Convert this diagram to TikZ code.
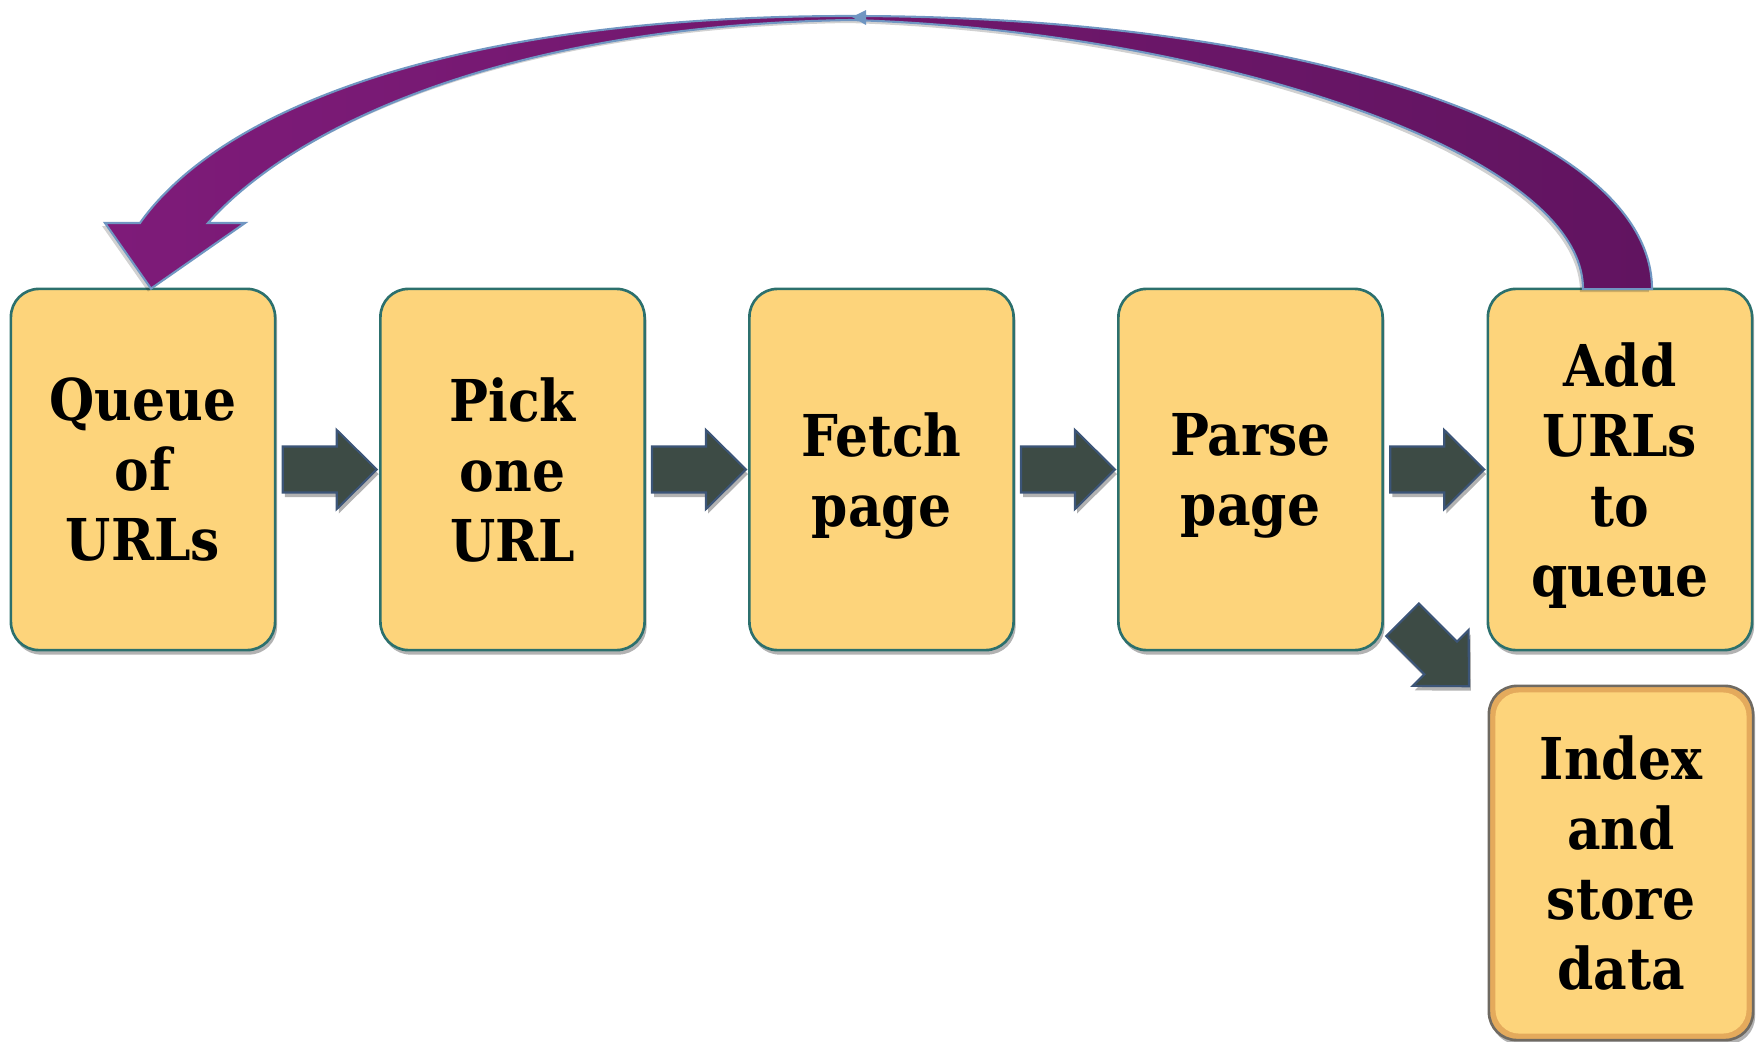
\documentclass[tikz,border=0pt]{standalone}
\usepackage{fontspec}
\setmainfont{DejaVu Serif Condensed}
\usetikzlibrary{shadows,calc}

\definecolor{boxfill}{HTML}{FDD47B}
\definecolor{boxline}{HTML}{2C706D}
\definecolor{bandfill}{HTML}{E4AA5C}
\definecolor{storeline}{HTML}{6F6A62}
\definecolor{arrowfill}{HTML}{3D4B45}
\definecolor{arrowline}{HTML}{3C5578}
\definecolor{loopleft}{HTML}{7E1B79}
\definecolor{loopright}{HTML}{611460}
\definecolor{loopline}{HTML}{7096C2}

\begin{document}
\begin{tikzpicture}[x=0.01cm,y=-0.01cm,
  softshadow/.style={drop shadow={shadow xshift=0.02cm, shadow yshift=-0.045cm, opacity=0.3, fill=black}},
  stage/.style={rectangle, rounded corners=0.28cm, minimum width=2.64cm,
    minimum height=3.61cm, fill=boxfill, draw=boxline, line width=0.75pt,
    align=center, inner sep=0pt, text=black, text depth=0pt,
    font=\fontsize{16.4}{19.9}\selectfont\bfseries, softshadow},
  store/.style={stage, fill=bandfill, draw=storeline, minimum height=3.54cm,
    path picture={\fill[boxfill, rounded corners=0.24cm]
      ([xshift=0.065cm,yshift=-0.065cm]path picture bounding box.north west) rectangle
      ([xshift=-0.065cm,yshift=0.065cm]path picture bounding box.south east);}},
  blockarrow/.style={fill=arrowfill, draw=arrowline, line width=0.6pt, line join=miter, softshadow},
  rarrow/.pic={\path[blockarrow] (-47,-23) -- (7,-23) -- (7,-39.5) -- (47,0)
      -- (7,39.5) -- (7,23) -- (-47,23) -- cycle;}
]
\useasboundingbox (0,0) rectangle (1756,1042);

% pipeline stages
\node[stage] (queue) at (143,469.5)  {Queue\\of\\URLs};
\node[stage] (pick)  at (512.5,469.5) {Pick\\one\\URL};
\node[stage] (fetch) at (881.5,469.5) {Fetch\\page};
\node[stage] (parse) at (1250.5,469.5) {Parse\\page};
\node[stage] (add)   at (1620,469.5) {Add\\URLs\\to\\queue};
\node[store] (index) at (1621,863)   {Index\\and\\store\\data};

% block arrows between stages
\path ($(queue.east)!0.5!(pick.west)+(2,0)$) pic {rarrow};
\path ($(pick.east)!0.5!(fetch.west)+(2,0)$) pic {rarrow};
\path ($(fetch.east)!0.5!(parse.west)+(2,0)$) pic {rarrow};
\path ($(parse.east)!0.5!(add.west)+(2,0)$) pic {rarrow};
\path ($(parse.south east)!0.5!(index.north west)+(0,-15)$) pic[rotate=-45] {rarrow};

% curved loop back from "Add URLs to queue" to "Queue of URLs"
\coordinate (tip)    at ($(queue.north)+(8,1)$);
\coordinate (tailL)  at ($(add.north)+(-37,1.5)$);
\coordinate (tailR)  at ($(add.north)+(32,1.5)$);
\path[draw=loopline, line width=0.6pt, left color=loopleft, right color=loopright,
      drop shadow={shadow xshift=-0.03cm, shadow yshift=-0.03cm, opacity=0.18, fill=black}]
  (tip) -- (105,223) -- (140,223)
  .. controls (220,110) and (450,16) .. (851,16)
  .. controls (1300,16) and (1652,130) .. (tailR)
  -- (tailL)
  .. controls (1583,150) and (1200,30) .. (851,20)
  .. controls (520,25) and (300,120) .. (208,223)
  -- (245,223) -- cycle;
\fill[loopline] (852,17) -- (866,10) -- (866,25) -- cycle;
\end{tikzpicture}
\end{document}
